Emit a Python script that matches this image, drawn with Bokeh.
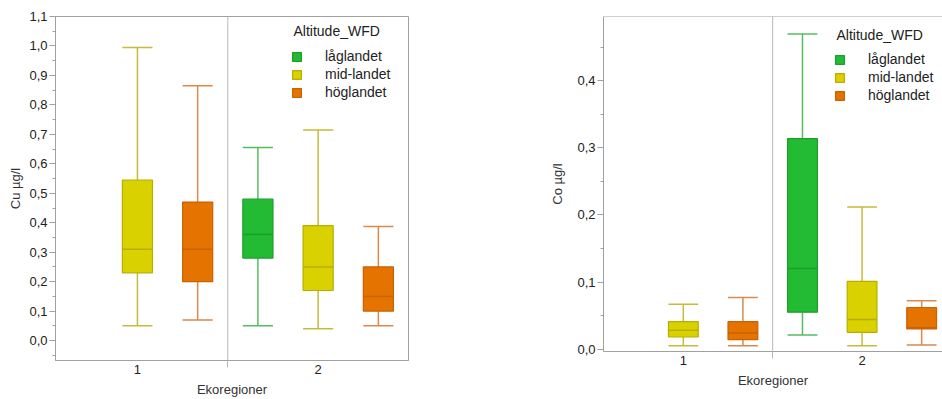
from bokeh.plotting import figure
from bokeh.layouts import row
from bokeh.models import (ColumnDataSource, FixedTicker, CustomJSTickFormatter,
                          Span, Legend, LegendItem, Range1d, Label)
from bokeh.embed import file_html
from bokeh.resources import INLINE

FONT = "Liberation Sans"

# altitude classes (legend order) and ecoregions on the x axis
altitudes = ["låglandet", "mid-landet", "höglandet"]
regions = ["1", "2"]

# one entry per box: ecoregion and altitude class
box_region = ["1", "1", "2", "2", "2"]
box_altitude = ["mid-landet", "höglandet", "låglandet", "mid-landet", "höglandet"]

# copper, µg/l: whisker ends, quartiles and median
cu_low = [0.05, 0.07, 0.05, 0.04, 0.05]
cu_q1 = [0.23, 0.20, 0.28, 0.17, 0.10]
cu_median = [0.31, 0.31, 0.36, 0.25, 0.15]
cu_q3 = [0.545, 0.47, 0.48, 0.39, 0.25]
cu_high = [0.995, 0.865, 0.655, 0.715, 0.387]

# cobalt, µg/l
co_low = [0.005, 0.005, 0.021, 0.005, 0.006]
co_q1 = [0.018, 0.014, 0.055, 0.025, 0.030]
co_median = [0.028, 0.024, 0.120, 0.044, 0.032]
co_q3 = [0.041, 0.041, 0.314, 0.101, 0.062]
co_high = [0.067, 0.077, 0.470, 0.212, 0.072]

fill_colors = {"låglandet": "#22bb33", "mid-landet": "#dad100", "höglandet": "#e57300"}
edge_colors = {"låglandet": "#1c9e2a", "mid-landet": "#b9ad00", "höglandet": "#c96200"}
whisker_colors = {"låglandet": "#55bd60", "mid-landet": "#c6bb3a", "höglandet": "#d98a4c"}

AXIS_GREY = "#a0a0a0"
BOX_W = 0.5


def slot(region, altitude):
    return 3 * regions.index(region) + altitudes.index(altitude)


def make_panel(low, q1, med, q3, high, ylabel, y_range, x_range, width, height,
               borders, yticks, yminor, legend_loc, title_pos, full_outline,
               label_standoff):
    p = figure(width=width, height=height, output_backend="svg", toolbar_location=None,
               x_range=Range1d(*x_range), y_range=Range1d(*y_range),
               min_border_left=borders[0], min_border_right=borders[1],
               min_border_top=borders[2], min_border_bottom=borders[3])
    p.background_fill_color = "white"
    p.border_fill_color = "white"
    p.xgrid.visible = False
    p.ygrid.visible = False
    p.outline_line_color = AXIS_GREY if full_outline else None

    # divider between the two ecoregions
    p.add_layout(Span(location=2.5, dimension="height", line_color="#b8b8b8", line_width=1))
    if not full_outline:
        p.add_layout(Span(location=y_range[1], dimension="width", line_color=AXIS_GREY, line_width=1))

    box_renderers = {}
    for alt in altitudes:
        idx = [i for i, a in enumerate(box_altitude) if a == alt]
        xs = [slot(box_region[i], alt) for i in idx]
        src = ColumnDataSource(dict(
            x=xs,
            low=[low[i] for i in idx], q1=[q1[i] for i in idx], med=[med[i] for i in idx],
            q3=[q3[i] for i in idx], high=[high[i] for i in idx],
            x0=[x - BOX_W / 2 for x in xs], x1=[x + BOX_W / 2 for x in xs],
        ))
        wc = whisker_colors[alt]
        p.segment(x0="x", y0="q3", x1="x", y1="high", source=src, line_color=wc, line_width=1.5)
        p.segment(x0="x", y0="low", x1="x", y1="q1", source=src, line_color=wc, line_width=1.5)
        p.segment(x0="x0", y0="high", x1="x1", y1="high", source=src, line_color=wc, line_width=1.5)
        p.segment(x0="x0", y0="low", x1="x1", y1="low", source=src, line_color=wc, line_width=1.5)
        box_renderers[alt] = p.vbar(x="x", width=BOX_W, bottom="q1", top="q3", source=src,
                                    fill_color=fill_colors[alt], line_color=edge_colors[alt],
                                    line_width=1.2)
        p.segment(x0="x0", y0="med", x1="x1", y1="med", source=src,
                  line_color=edge_colors[alt], line_width=1.5)

    # y axis
    yax = p.yaxis[0]
    yax.ticker = FixedTicker(ticks=yticks, minor_ticks=yminor)
    yax.formatter = CustomJSTickFormatter(code="return tick.toFixed(1).replace('.', ',');")
    yax.axis_label = ylabel
    yax.axis_label_standoff = label_standoff
    yax.axis_label_text_font = FONT
    yax.axis_label_text_font_style = "normal"
    yax.axis_label_text_font_size = "13px"
    yax.axis_label_text_color = "#333333"
    yax.major_label_text_font = FONT
    yax.major_label_text_font_size = "13px"
    yax.major_label_text_color = "#222222"
    yax.major_label_standoff = 2
    yax.axis_line_color = AXIS_GREY
    yax.major_tick_line_color = AXIS_GREY
    yax.minor_tick_line_color = AXIS_GREY
    yax.major_tick_out = 6
    yax.major_tick_in = 0
    yax.minor_tick_out = 3
    yax.minor_tick_in = 0

    # x axis: region names centred on each group, a tick mark on the divider
    xax = p.xaxis[0]
    xax.ticker = FixedTicker(ticks=[1, 4], minor_ticks=[2.5])
    xax.formatter = CustomJSTickFormatter(args=dict(names=regions),
                                          code="return names[Math.round((tick - 1) / 3)];")
    xax.axis_label = "Ekoregioner"
    xax.axis_label_standoff = 5
    xax.axis_label_text_font = FONT
    xax.axis_label_text_font_style = "normal"
    xax.axis_label_text_font_size = "13px"
    xax.axis_label_text_color = "#333333"
    xax.major_label_text_font = FONT
    xax.major_label_text_font_size = "13px"
    xax.major_label_text_color = "#222222"
    xax.major_label_standoff = -3
    xax.axis_line_color = AXIS_GREY
    xax.major_tick_line_color = None
    xax.major_tick_out = 0
    xax.major_tick_in = 0
    xax.minor_tick_line_color = "#b8b8b8"
    xax.minor_tick_out = 7
    xax.minor_tick_in = 0

    legend = Legend(
        items=[LegendItem(label=a, renderers=[box_renderers[a]]) for a in altitudes],
        location=legend_loc,
        label_text_font=FONT, label_text_font_size="14px", label_text_color="#222222",
        glyph_width=11, glyph_height=11, label_standoff=23, label_height=16,
        spacing=2, padding=4, margin=0, border_line_color=None, background_fill_alpha=0,
    )
    p.add_layout(legend)
    # legend heading
    p.add_layout(Label(x=title_pos[0], y=title_pos[1], x_units="screen", y_units="screen",
                       text="Altitude_WFD", text_font=FONT, text_font_size="14px",
                       text_color="#222222", text_baseline="bottom"))
    return p


left = make_panel(cu_low, cu_q1, cu_median, cu_q3, cu_high, "Cu µg/l",
                  (-0.0676, 1.1), (-0.36, 5.5), 470, 399, (55, 62, 15, 38),
                  [i / 10 for i in range(0, 12)], [i / 10 + 0.05 for i in range(-1, 11)],
                  (236, 260), (238, 322), True, 3)
right = make_panel(co_low, co_q1, co_median, co_q3, co_high, "Co µg/l",
                   (-0.0036, 0.496), (-0.34, 5.35), 472, 390, (133, 0, 16, 38),
                   [i / 10 for i in range(0, 5)], [i / 10 + 0.05 for i in range(0, 5)],
                   (231, 248), (233, 309), False, 9)

layout = row(left, right, spacing=0)
open("out.html", "w").write(file_html(layout, INLINE))
